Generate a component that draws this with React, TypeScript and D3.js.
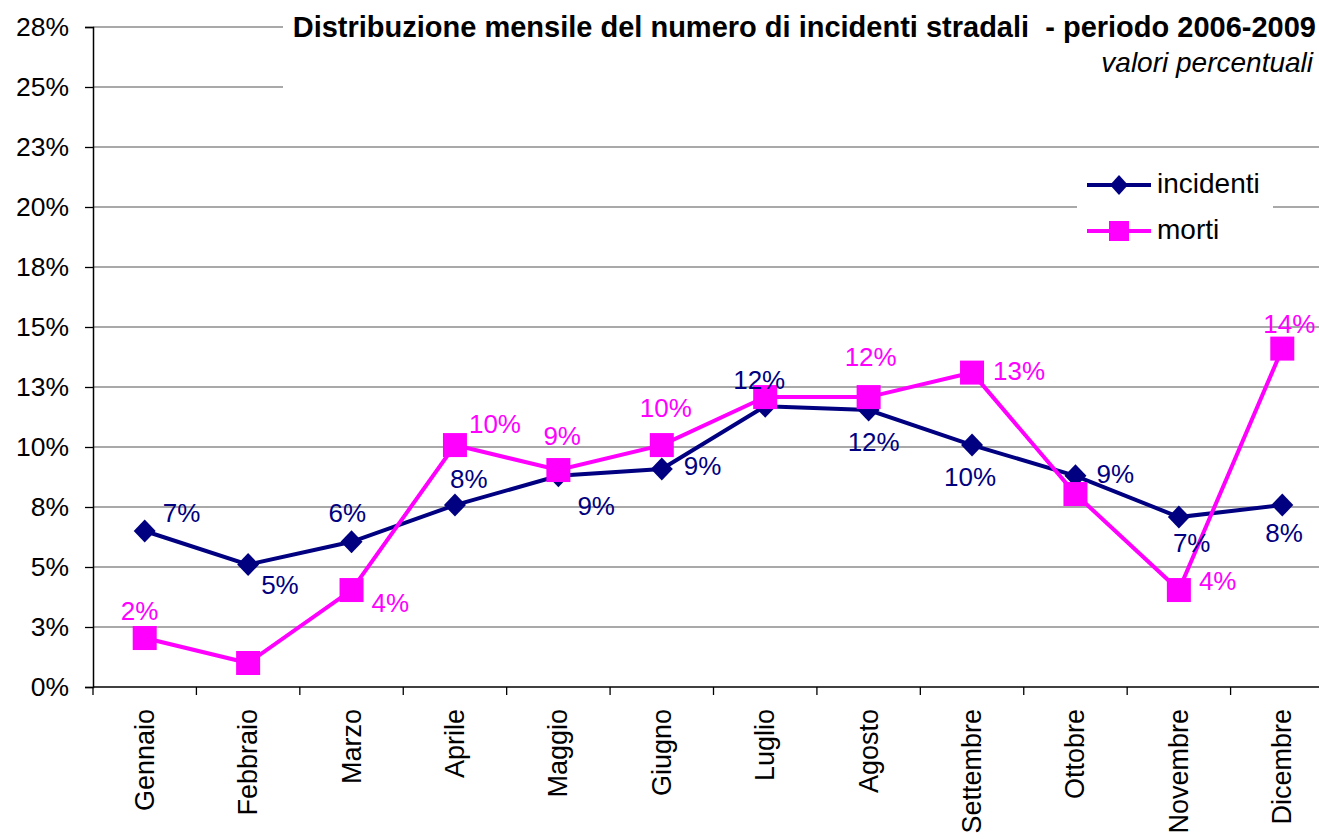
import React, { useRef, useEffect } from "react";
import * as d3 from "d3";

const months = [
  "Gennaio", "Febbraio", "Marzo", "Aprile", "Maggio", "Giugno",
  "Luglio", "Agosto", "Settembre", "Ottobre", "Novembre", "Dicembre",
];
const incidenti = [6.5, 5.1, 6.05, 7.58, 8.8, 9.08, 11.7, 11.54, 10.08, 8.8, 7.08, 7.58];
const morti = [2.04, 1.0, 4.04, 10.08, 9.04, 10.08, 12.08, 12.08, 13.1, 8.04, 4.04, 14.1];
const incidentiLabels = ["7%", "5%", "6%", "8%", "9%", "9%", "12%", "12%", "10%", "9%", "7%", "8%"];
const mortiLabels = ["2%", "", "4%", "10%", "9%", "10%", "", "12%", "13%", "", "4%", "14%"];
const yTicks = [0, 2.5, 5, 7.5, 10, 12.5, 15, 17.5, 20, 22.5, 25, 27.5];
const yTickLabels = ["0%", "3%", "5%", "8%", "10%", "13%", "15%", "18%", "20%", "23%", "25%", "28%"];

// label offsets from each marker (text start x, baseline y)
const incDx = [18, 13, -23, -5, 19, 22, -32, -21, -28, 21, -6, -17];
const incDy = [-9, 29, -20, -17, 39, 6, -17, 41, 41, 7, 35, 37];
const morDx = [-24, 0, 20, 14, -15, -22, 0, -24, 21, 0, 20, -19];
const morDy = [-18, 0, 22, -12, -25, -28, 0, -31, 7, 0, 0, -16];

const W = 1319;
const H = 839;
const NAVY = "#000080";
const PINK = "#FF00FF";
const FONT = "'Liberation Sans', Arial, sans-serif";

const App = () => {
  const svgRef = useRef<SVGSVGElement>(null);

  useEffect(() => {
    const svg = d3.select(svgRef.current);
    svg.selectAll("*").remove();

    const left = 93, right = 1334, top = 27, bottom = 687;

    const x = d3.scaleBand().domain(months).range([left, right]);
    const cx = (m: string) => (x(m) as number) + x.bandwidth() / 2;
    const y = d3.scaleLinear().domain([0, 27.5]).range([bottom, top]);

    // gridlines
    svg.append("g")
      .selectAll("line")
      .data(yTicks.slice(1))
      .join("line")
      .attr("x1", left).attr("x2", right)
      .attr("y1", (d) => y(d)).attr("y2", (d) => y(d))
      .attr("stroke", "#8c8c8c").attr("stroke-width", 1.3);

    // title and legend backgrounds hide the grid
    svg.append("rect").attr("x", 283).attr("y", 8).attr("width", W - 283).attr("height", 100).attr("fill", "#fff");
    svg.append("rect").attr("x", 1077).attr("y", 152).attr("width", 196).attr("height", 100).attr("fill", "#fff");

    // y axis
    const yAxis = d3.axisLeft(y)
      .tickValues(yTicks)
      .tickFormat((_, i) => yTickLabels[i])
      .tickSize(8)
      .tickPadding(16);
    const gy = svg.append("g").attr("transform", `translate(${left},0)`).call(yAxis);
    gy.select(".domain").attr("stroke", "#000").attr("stroke-width", 1.5);
    gy.selectAll(".tick line").attr("stroke", "#000").attr("stroke-width", 1.3);
    gy.selectAll(".tick text")
      .attr("font-family", FONT).attr("font-size", 26.5).attr("fill", "#000");

    // x axis, ticks at category boundaries
    const bounds = months.map((m) => x(m) as number).concat([right]);
    svg.append("line")
      .attr("x1", left).attr("x2", right).attr("y1", bottom).attr("y2", bottom)
      .attr("stroke", "#000").attr("stroke-width", 1.5);
    svg.append("g")
      .selectAll("line")
      .data(bounds)
      .join("line")
      .attr("x1", (d) => d).attr("x2", (d) => d)
      .attr("y1", bottom).attr("y2", bottom + 8)
      .attr("stroke", "#000").attr("stroke-width", 1.3);
    svg.append("g")
      .selectAll("text")
      .data(months)
      .join("text")
      .attr("transform", (m) => `translate(${cx(m) + 9},${bottom + 22}) rotate(-90)`)
      .attr("text-anchor", "end")
      .attr("font-family", FONT).attr("font-size", 27).attr("fill", "#000")
      .text((m) => m);

    const line = d3.line<number>().x((_, i) => cx(months[i])).y((d) => y(d));

    // incidenti
    svg.append("path").datum(incidenti).attr("d", line)
      .attr("fill", "none").attr("stroke", NAVY).attr("stroke-width", 4);
    svg.append("g").selectAll("path").data(incidenti).join("path")
      .attr("transform", (d, i) => `translate(${cx(months[i])},${y(d)})`)
      .attr("d", "M0,-11.5L11,0L0,11.5L-11,0Z")
      .attr("fill", NAVY);

    // morti
    svg.append("path").datum(morti).attr("d", line)
      .attr("fill", "none").attr("stroke", PINK).attr("stroke-width", 4);
    svg.append("g").selectAll("rect").data(morti).join("rect")
      .attr("x", (_, i) => cx(months[i]) - 12)
      .attr("y", (d) => y(d) - 12)
      .attr("width", 24).attr("height", 24)
      .attr("fill", PINK);

    const drawLabels = (vals: number[], labels: string[], dx: number[], dy: number[], color: string) => {
      const idx = vals.map((_, i) => i).filter((i) => labels[i] !== "");
      svg.append("g").selectAll("text").data(idx).join("text")
        .attr("x", (i) => cx(months[i]) + dx[i])
        .attr("y", (i) => y(vals[i]) + dy[i])
        .attr("font-family", FONT).attr("font-size", 26).attr("fill", color)
        .text((i) => labels[i]);
    };
    drawLabels(incidenti, incidentiLabels, incDx, incDy, NAVY);
    drawLabels(morti, mortiLabels, morDx, morDy, PINK);

    // title
    svg.append("text")
      .attr("x", 1316).attr("y", 37)
      .attr("text-anchor", "end")
      .attr("font-family", FONT).attr("font-size", 29).attr("font-weight", "bold")
      .attr("fill", "#000")
      .style("white-space", "pre")
      .text("Distribuzione mensile del numero di incidenti stradali  - periodo 2006-2009");
    svg.append("text")
      .attr("x", 1313).attr("y", 72)
      .attr("text-anchor", "end")
      .attr("font-family", FONT).attr("font-size", 28).attr("font-style", "italic")
      .attr("fill", "#000")
      .text("valori percentuali");

    // legend
    const legend = [
      { name: "incidenti", color: NAVY, ly: 185 },
      { name: "morti", color: PINK, ly: 231 },
    ];
    const lg = svg.append("g");
    legend.forEach((l, i) => {
      lg.append("line").attr("x1", 1087).attr("x2", 1151).attr("y1", l.ly).attr("y2", l.ly)
        .attr("stroke", l.color).attr("stroke-width", 4);
      if (i === 0) {
        lg.append("path").attr("transform", `translate(1119,${l.ly})`)
          .attr("d", "M0,-10L9,0L0,10L-9,0Z").attr("fill", l.color);
      } else {
        lg.append("rect").attr("x", 1109).attr("y", l.ly - 10).attr("width", 20).attr("height", 20)
          .attr("fill", l.color);
      }
      lg.append("text").attr("x", 1157).attr("y", l.ly + 8)
        .attr("font-family", FONT).attr("font-size", 28).attr("fill", "#000")
        .text(l.name);
    });
  }, []);

  return (
    <svg
      ref={svgRef}
      width={W}
      height={H}
      style={{ position: "absolute", left: 0, top: 0, background: "#fff" }}
    />
  );
};

export default App;
